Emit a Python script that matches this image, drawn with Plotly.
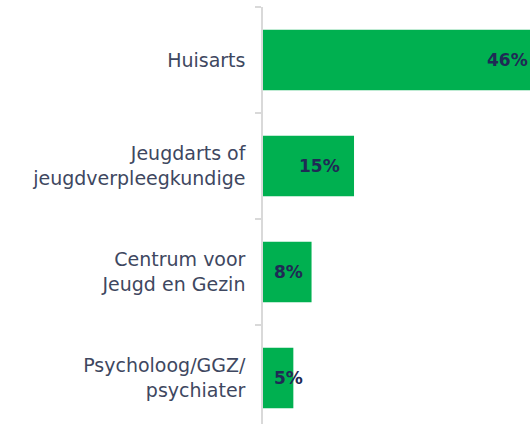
import plotly.graph_objects as go

categories = ["Huisarts", "Jeugdarts of<br>jeugdverpleegkundige", "Centrum voor<br>Jeugd en Gezin", "Psycholoog/GGZ/<br>psychiater"]
values = [46, 15, 8, 5]
value_labels = ["46%", "15%", "8%", "5%"]

GREEN = "#00b050"
fig = go.Figure(go.Bar(
    x=values, y=categories, orientation="h",
    marker=dict(color=GREEN, line=dict(width=0)),
    hoverinfo="skip",
))

for v, c, t in zip(values, categories, value_labels):
    fig.add_annotation(x=max(v - 2, 7), y=c, xref="x", yref="y", text=t,
                       showarrow=False, xanchor="right", yanchor="middle",
                       font=dict(family="DejaVu Sans", size=17, color="#1f2a55", weight="bold"))

fig.update_layout(
    width=530, height=424,
    margin=dict(l=263, r=0, t=7, b=0),
    paper_bgcolor="white", plot_bgcolor="white",
    bargap=0.43,
    showlegend=False,
    font=dict(family="DejaVu Sans", size=19, color="#3e4760"),
)
fig.update_xaxes(range=[0, 44], visible=False, showgrid=False, zeroline=False)
fig.update_yaxes(
    type="category", categoryorder="array", categoryarray=categories,
    range=[3.434, -0.5],
    showline=True, linecolor="#d9d9d9", linewidth=1.5,
    ticks="outside", tickson="boundaries", ticklen=6, tickcolor="#d9d9d9", tickwidth=1.5,
    ticklabelstandoff=12,
    showgrid=False, zeroline=False,
    tickfont=dict(family="DejaVu Sans", size=19, color="#3e4760"),
)

fig.write_html("out.html", config={"displayModeBar": False},
               post_script="document.body.style.margin='0';document.body.style.overflow='hidden';")
